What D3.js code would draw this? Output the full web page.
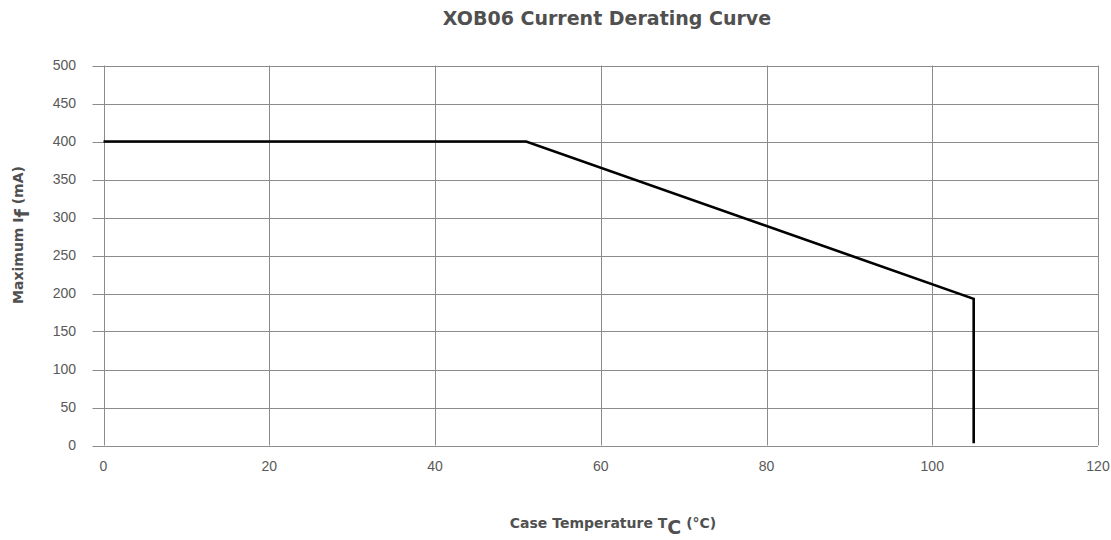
<!DOCTYPE html>
<html>
<head>
<meta charset="utf-8">
<script src="https://cdn.jsdelivr.net/npm/d3@7"></script>
<style>
  body { margin: 0; background: #fff; }
</style>
</head>
<body>
<div id="chart"></div>
<script>
// curve points
var tempC = [0, 51, 105, 105];
var currentMA = [400, 400, 193, 3];
var xTicks = [0, 20, 40, 60, 80, 100, 120];
var yTicks = [0, 50, 100, 150, 200, 250, 300, 350, 400, 450, 500];

var width = 1111, height = 540;
var margin = {left: 103.5, right: 13, top: 65.5, bottom: 94.5};

var svg = d3.select("#chart").append("svg")
    .attr("width", width).attr("height", height);

var x = d3.scaleLinear().domain([0, 120]).range([margin.left, width - margin.right]);
var y = d3.scaleLinear().domain([0, 500]).range([height - margin.bottom, margin.top]);

var grid = "#8c8c8c";
var tickFont = "'Liberation Sans', Arial, sans-serif";
var labelFont = "'DejaVu Sans', sans-serif";

// horizontal grid, sticking out left a bit like ticks
svg.append("g").selectAll("line")
    .data(yTicks).enter().append("line")
    .attr("x1", x(0) - 11).attr("x2", x(120))
    .attr("y1", function(d) { return Math.round(y(d)) + 0.5; })
    .attr("y2", function(d) { return Math.round(y(d)) + 0.5; })
    .attr("stroke", grid).attr("stroke-width", 1);

svg.append("g").selectAll("line")
    .data(xTicks).enter().append("line")
    .attr("x1", function(d) { return Math.round(x(d)) + 0.5; })
    .attr("x2", function(d) { return Math.round(x(d)) + 0.5; })
    .attr("y1", y(500)).attr("y2", y(0))
    .attr("stroke", grid).attr("stroke-width", 1);

// tick labels
svg.append("g").selectAll("text")
    .data(yTicks).enter().append("text")
    .attr("x", 76).attr("y", function(d) { return y(d); })
    .attr("dy", "0.35em").attr("text-anchor", "end")
    .style("font-family", tickFont)
    .style("font-size", "14px").attr("fill", "#595959")
    .text(function(d) { return d; });

svg.append("g").selectAll("text")
    .data(xTicks).enter().append("text")
    .attr("x", function(d) { return x(d); }).attr("y", 471)
    .attr("text-anchor", "middle")
    .style("font-family", tickFont)
    .style("font-size", "14px").attr("fill", "#595959")
    .text(function(d) { return d; });

// the derating curve
var pts = tempC.map(function(t, i) { return [t, currentMA[i]]; });
var line = d3.line()
    .x(function(d) { return x(d[0]); })
    .y(function(d) { return y(d[1]); });

svg.append("path")
    .datum(pts)
    .attr("d", line)
    .attr("fill", "none")
    .attr("stroke", "#000")
    .attr("stroke-width", 2.6)
    .attr("stroke-linejoin", "miter");

// titles
svg.append("text")
    .attr("x", 607).attr("y", 25)
    .attr("text-anchor", "middle")
    .style("font-family", labelFont)
    .style("font-weight", "bold").style("font-size", "19px")
    .attr("fill", "#505050")
    .text("XOB06 Current Derating Curve");

var xl = svg.append("text")
    .attr("x", 613).attr("y", 528)
    .attr("text-anchor", "middle")
    .style("font-family", labelFont)
    .style("font-weight", "bold").style("font-size", "14px")
    .attr("fill", "#505050");
xl.append("tspan").text("Case Temperature T");
xl.append("tspan").attr("dy", 6).style("font-size", "19px").text("C");
xl.append("tspan").attr("dy", -6).text(" (°C)");

var yl = svg.append("text")
    .attr("transform", "translate(23,235) rotate(-90)")
    .attr("text-anchor", "middle")
    .style("font-family", labelFont)
    .style("font-weight", "bold").style("font-size", "14px")
    .attr("fill", "#505050");
yl.append("tspan").text("Maximum I");
yl.append("tspan").attr("dy", 6).style("font-size", "19px").text("f");
yl.append("tspan").attr("dy", -6).text(" (mA)");
</script>
</body>
</html>
